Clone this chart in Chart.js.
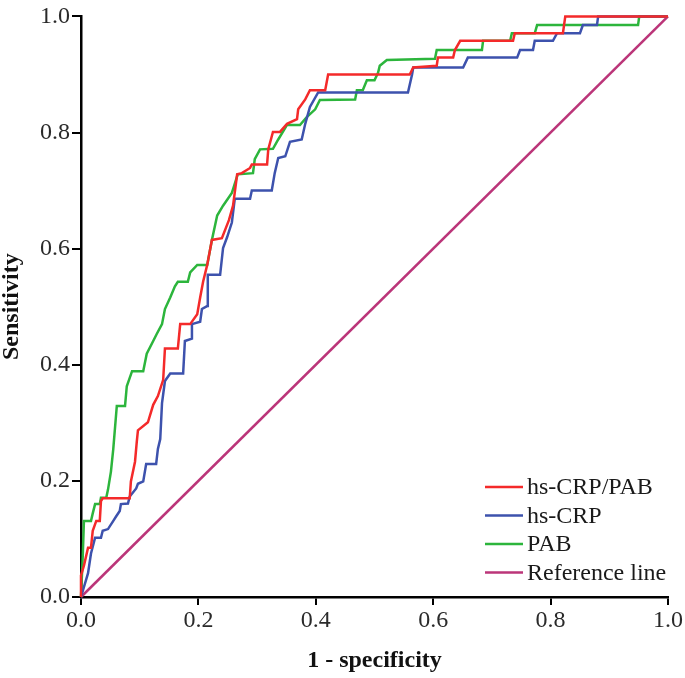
<!DOCTYPE html>
<html>
<head>
<meta charset="utf-8">
<script src="https://cdn.jsdelivr.net/npm/chart.js@4.4.1/dist/chart.umd.min.js"></script>
<style>
  html, body { margin: 0; padding: 0; background: #fff; }
  #rocChart { display: block; }
</style>
</head>
<body>
<canvas id="rocChart" width="685" height="678"></canvas>
<script>
// ROC curves
const seriesLabels = ['hs-CRP/PAB', 'hs-CRP', 'PAB', 'Reference line'];
const seriesColors = ['#f42a2a', '#3d52ad', '#2cb53c', '#bb3579'];

// hs-CRP/PAB
const ratioFpr = [0, 0, 0.005, 0.012, 0.017, 0.020, 0.026, 0.032, 0.034, 0.037, 0.083, 0.085, 0.092, 0.095, 0.097, 0.114, 0.123, 0.131, 0.140, 0.143, 0.165, 0.169, 0.186, 0.198, 0.203, 0.208, 0.215, 0.223, 0.240, 0.252, 0.259, 0.266, 0.274, 0.288, 0.291, 0.317, 0.319, 0.327, 0.339, 0.351, 0.368, 0.370, 0.382, 0.390, 0.416, 0.421, 0.560, 0.566, 0.606, 0.608, 0.634, 0.637, 0.646, 0.736, 0.739, 0.821, 0.825, 1];
const ratioTpr = [0, 0.037, 0.054, 0.085, 0.085, 0.114, 0.131, 0.131, 0.165, 0.170, 0.170, 0.199, 0.233, 0.267, 0.287, 0.301, 0.331, 0.346, 0.374, 0.428, 0.428, 0.470, 0.470, 0.487, 0.516, 0.543, 0.572, 0.615, 0.618, 0.649, 0.674, 0.728, 0.730, 0.739, 0.745, 0.745, 0.771, 0.801, 0.801, 0.815, 0.823, 0.840, 0.857, 0.873, 0.873, 0.900, 0.900, 0.912, 0.915, 0.929, 0.929, 0.942, 0.958, 0.958, 0.971, 0.971, 1, 1];

// hs-CRP
const crpFpr = [0, 0.012, 0.017, 0.024, 0.034, 0.037, 0.046, 0.055, 0.060, 0.066, 0.068, 0.080, 0.083, 0.094, 0.097, 0.106, 0.111, 0.128, 0.131, 0.135, 0.138, 0.143, 0.152, 0.174, 0.177, 0.189, 0.189, 0.203, 0.206, 0.215, 0.216, 0.237, 0.242, 0.249, 0.257, 0.262, 0.288, 0.291, 0.325, 0.330, 0.336, 0.348, 0.356, 0.376, 0.382, 0.390, 0.404, 0.557, 0.564, 0.566, 0.651, 0.659, 0.743, 0.748, 0.770, 0.773, 0.804, 0.811, 0.850, 0.855, 0.879, 0.881, 1];
const crpTpr = [0, 0.041, 0.075, 0.102, 0.102, 0.114, 0.117, 0.131, 0.139, 0.148, 0.160, 0.161, 0.173, 0.187, 0.195, 0.199, 0.229, 0.229, 0.255, 0.272, 0.334, 0.372, 0.385, 0.385, 0.441, 0.445, 0.470, 0.474, 0.496, 0.501, 0.555, 0.555, 0.601, 0.620, 0.645, 0.686, 0.686, 0.700, 0.700, 0.730, 0.756, 0.759, 0.784, 0.788, 0.815, 0.844, 0.869, 0.869, 0.900, 0.912, 0.912, 0.929, 0.929, 0.942, 0.942, 0.958, 0.958, 0.971, 0.971, 0.985, 0.985, 1, 1];

// PAB
const pabFpr = [0, 0.003, 0.005, 0.017, 0.020, 0.024, 0.032, 0.034, 0.043, 0.046, 0.051, 0.055, 0.061, 0.075, 0.078, 0.087, 0.106, 0.112, 0.123, 0.129, 0.138, 0.143, 0.152, 0.160, 0.165, 0.182, 0.186, 0.198, 0.215, 0.223, 0.232, 0.242, 0.257, 0.267, 0.293, 0.296, 0.305, 0.327, 0.336, 0.351, 0.373, 0.385, 0.399, 0.407, 0.467, 0.470, 0.480, 0.487, 0.500, 0.506, 0.509, 0.521, 0.603, 0.606, 0.683, 0.685, 0.731, 0.734, 0.773, 0.777, 0.949, 0.951, 1];
const pabTpr = [0, 0.071, 0.131, 0.131, 0.144, 0.160, 0.160, 0.171, 0.171, 0.185, 0.216, 0.255, 0.329, 0.329, 0.363, 0.389, 0.389, 0.419, 0.441, 0.453, 0.470, 0.496, 0.516, 0.535, 0.543, 0.543, 0.559, 0.572, 0.572, 0.615, 0.657, 0.674, 0.696, 0.728, 0.730, 0.754, 0.771, 0.772, 0.788, 0.813, 0.813, 0.827, 0.840, 0.856, 0.857, 0.873, 0.873, 0.890, 0.890, 0.903, 0.915, 0.925, 0.927, 0.942, 0.942, 0.958, 0.958, 0.971, 0.971, 0.985, 0.985, 1, 1];

// Reference diagonal
const refFpr = [0, 1];
const refTpr = [0, 1];

const tickValues = [0, 0.2, 0.4, 0.6, 0.8, 1.0];

const toPoints = (xs, ys) => xs.map((x, i) => ({ x: x, y: ys[i] }));
const allFpr = [ratioFpr, crpFpr, pabFpr, refFpr];
const allTpr = [ratioTpr, crpTpr, pabTpr, refTpr];

const serif = "'Liberation Serif', 'Times New Roman', serif";

// legend drawn inside the plot, lower right
const insideLegend = {
    id: 'insideLegend',
    afterDraw(chart) {
        const c = chart.ctx;
        c.save();
        c.font = '24px ' + serif;
        c.textBaseline = 'middle';
        c.textAlign = 'left';
        chart.data.datasets.forEach((ds, i) => {
            const y = 487 + i * 28.5;
            c.strokeStyle = ds.borderColor;
            c.lineWidth = 2.5;
            c.beginPath();
            c.moveTo(485, y);
            c.lineTo(523, y);
            c.stroke();
            c.fillStyle = '#1a1a1a';
            c.fillText(ds.label, 527, y + 1);
        });
        c.restore();
    }
};

const config = {
    type: 'line',
    data: {
        datasets: seriesLabels.map((label, i) => ({
            label: label,
            data: toPoints(allFpr[i], allTpr[i]),
            borderColor: seriesColors[i],
            backgroundColor: seriesColors[i],
            borderWidth: 2.5,
            pointRadius: 0,
            tension: 0,
            fill: false,
            clip: 4
        }))
    },
    options: {
        responsive: false,
        animation: false,
        layout: { padding: { top: 8, right: 17, left: 0, bottom: 0 } },
        plugins: {
            legend: { display: false },
            tooltip: { enabled: false }
        },
        scales: {
            x: {
                type: 'linear',
                min: 0,
                max: 1,
                afterFit: (s) => { s.height = 81; },
                afterBuildTicks: (s) => { s.ticks = tickValues.map(v => ({ value: v })); },
                ticks: {
                    callback: (v) => v.toFixed(1),
                    color: '#2a2a2a',
                    font: { family: serif, size: 24 },
                    padding: 1,
                    maxRotation: 0,
                    autoSkip: false
                },
                grid: { drawOnChartArea: false, drawTicks: true, tickLength: 8, color: '#000', lineWidth: 2 },
                border: { color: '#000', width: 2.5 },
                title: {
                    display: true,
                    text: '1 - specificity',
                    color: '#111',
                    font: { family: serif, size: 24, weight: 'bold', lineHeight: 1 },
                    padding: { top: 0, bottom: 5 }
                }
            },
            y: {
                type: 'linear',
                min: 0,
                max: 1,
                afterFit: (s) => { s.width = 81; },
                afterBuildTicks: (s) => { s.ticks = tickValues.map(v => ({ value: v })); },
                ticks: {
                    callback: (v) => v.toFixed(1),
                    color: '#2a2a2a',
                    font: { family: serif, size: 24 },
                    padding: 2,
                    autoSkip: false
                },
                grid: { drawOnChartArea: false, drawTicks: true, tickLength: 9, color: '#000', lineWidth: 2 },
                border: { color: '#000', width: 2.5 },
                title: {
                    display: true,
                    text: 'Sensitivity',
                    color: '#111',
                    font: { family: serif, size: 24, weight: 'bold', lineHeight: 1 },
                    padding: { top: 0, bottom: 0 }
                }
            }
        }
    },
    plugins: [insideLegend]
};

window.addEventListener('load', () => {
    const el = document.getElementById('rocChart');
    if (!el) {
        console.error('Chart element not found!');
        return;
    }
    new Chart(el.getContext('2d'), config);
});
</script>
</body>
</html>
